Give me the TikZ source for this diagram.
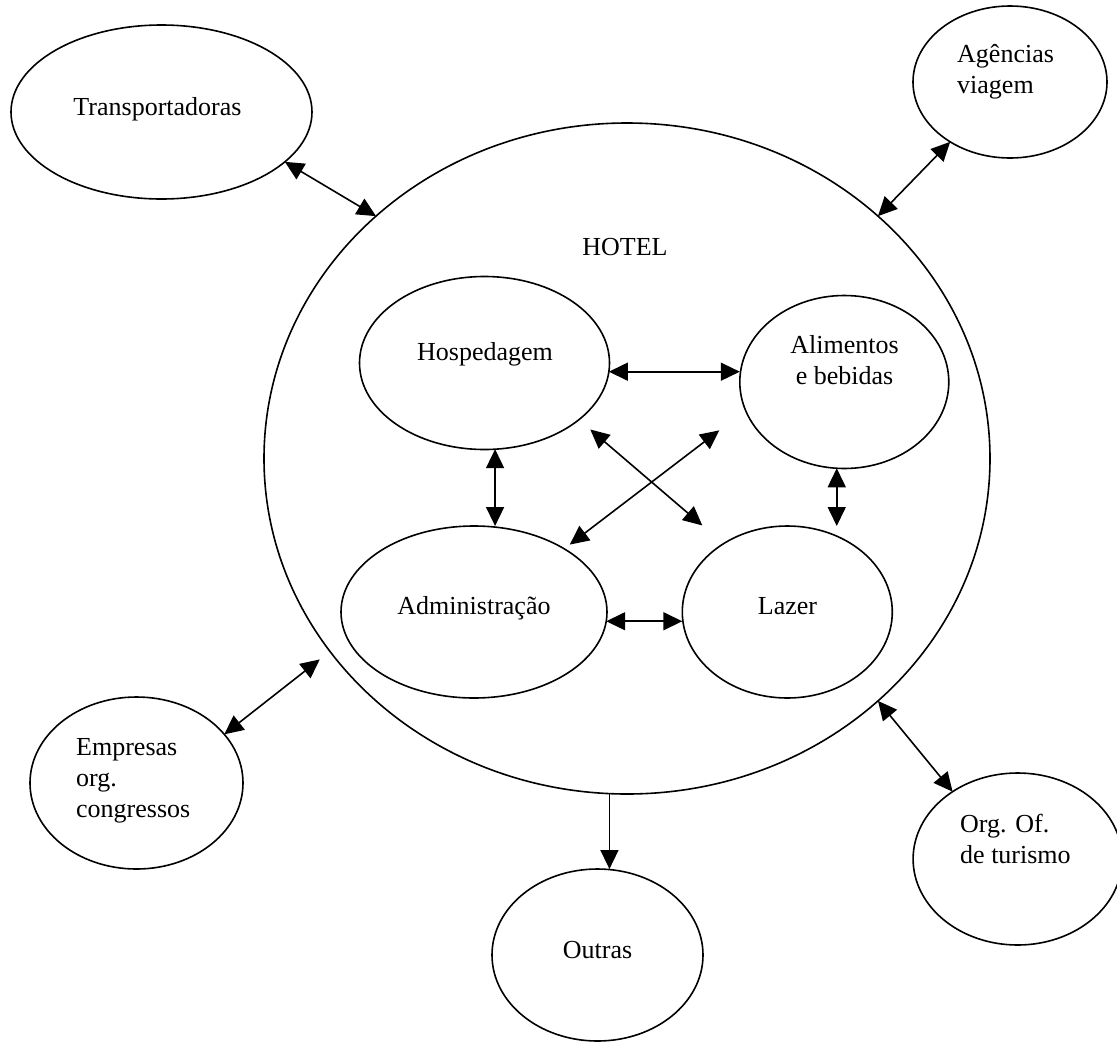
\documentclass[tikz,border=0pt]{standalone}
\usepackage{fontspec}
\setmainfont{Liberation Serif}
\usetikzlibrary{arrows.meta,shapes.geometric}
\newcommand{\stackL}[1]{\vtop{\halign{##\hfil\cr #1\crcr}}}
\newcommand{\stackC}[1]{\vtop{\halign{\hfil##\hfil\cr #1\crcr}}}
\begin{document}
\begin{tikzpicture}[x=1pt,y=-1pt,
  oval/.style={draw, ellipse, line width=1.6pt, inner sep=0pt, outer sep=0pt},
  lbl/.style={inner sep=0pt, font=\fontsize{26}{31}\selectfont, anchor=base},
  tipA/.tip={Triangle[length=19pt,width=18pt]},
  link/.style={line width=1.6pt, tipA-tipA},
  onelink/.style={line width=1.6pt, -tipA}]
\useasboundingbox (0,0) rectangle (1117,1042);

% shapes
\node[oval, minimum width=301pt, minimum height=174pt] (trans) at (161.5,112) {};
\node[oval, minimum width=194pt, minimum height=152pt] (agen) at (1010,82) {};
\node[oval, minimum width=726pt, minimum height=671pt] (hotel) at (627,458.5) {};
\node[oval, minimum width=250pt, minimum height=173pt] (hosp) at (484.5,363) {};
\node[oval, minimum width=209pt, minimum height=173pt] (alim) at (844.3,382) {};
\node[oval, minimum width=266pt, minimum height=172pt] (admin) at (474,612) {};
\node[oval, minimum width=210pt, minimum height=172pt] (lazer) at (787.3,612) {};
\node[oval, minimum width=213pt, minimum height=172pt] (emp) at (136.5,783) {};
\node[oval, minimum width=209pt, minimum height=172pt] (org) at (1017.6,859) {};
\node[oval, minimum width=211pt, minimum height=172pt] (outras) at (597.5,955) {};

% texts
\node[lbl] (transT) at (157.5,115) {Transportadoras};
\node[lbl] (hotelT) at (625,255) {HOTEL};
\node[lbl] (hospT) at (485,360.5) {Hospedagem};
\node[lbl] (alimT) at (844.6,353.5) {\stackC{Alimentos\cr e bebidas}};
\node[lbl] (adminT) at (474,614.5) {Administração};
\node[lbl] (lazerT) at (787.5,614.5) {Lazer};
\node[lbl, anchor=base west] (empT) at (76,755) {\stackL{Empresas\cr org.\cr congressos}};
\node[lbl, anchor=base west] (orgT) at (960,832) {\stackL{Org. Of.\cr de turismo}};
\node[lbl, anchor=base west] (agenT) at (957,62) {\stackL{Agências\cr viagem}};
\node[lbl] (outrasT) at (597.5,958) {Outras};

% outer connectors
\draw[link] (trans.-22) -- (hotel.136.2);
\draw[link] (agen.225) -- (hotel.44.2);
\draw[link, shorten >=13pt] (emp.29.5) -- (hotel.213.3);
\draw[link] (hotel.-44.5) -- (org.134.4);
\draw[onelink] (hotel.-93.4) -- (hotel.-93.4 |- outras.north);

% inner connectors
\draw[link] (hosp.-4.88) -- (hosp.-4.88 -| alim.west);
\draw[link] (hosp.-83.7) -- (hosp.-83.7 |- admin.north);
\draw[link] (alim.-95.7) -- (alim.-95.7 |- lazer.north);
\draw[link] (admin.-4.33) -- (admin.-4.33 -| lazer.west);
\draw[link, shorten <=15pt, shorten >=28pt] (hosp.-31.6) -- (lazer.133.4);
\draw[link, shorten <=7pt, shorten >=33pt] (admin.35.5) -- (alim.196.7);
\end{tikzpicture}
\end{document}
